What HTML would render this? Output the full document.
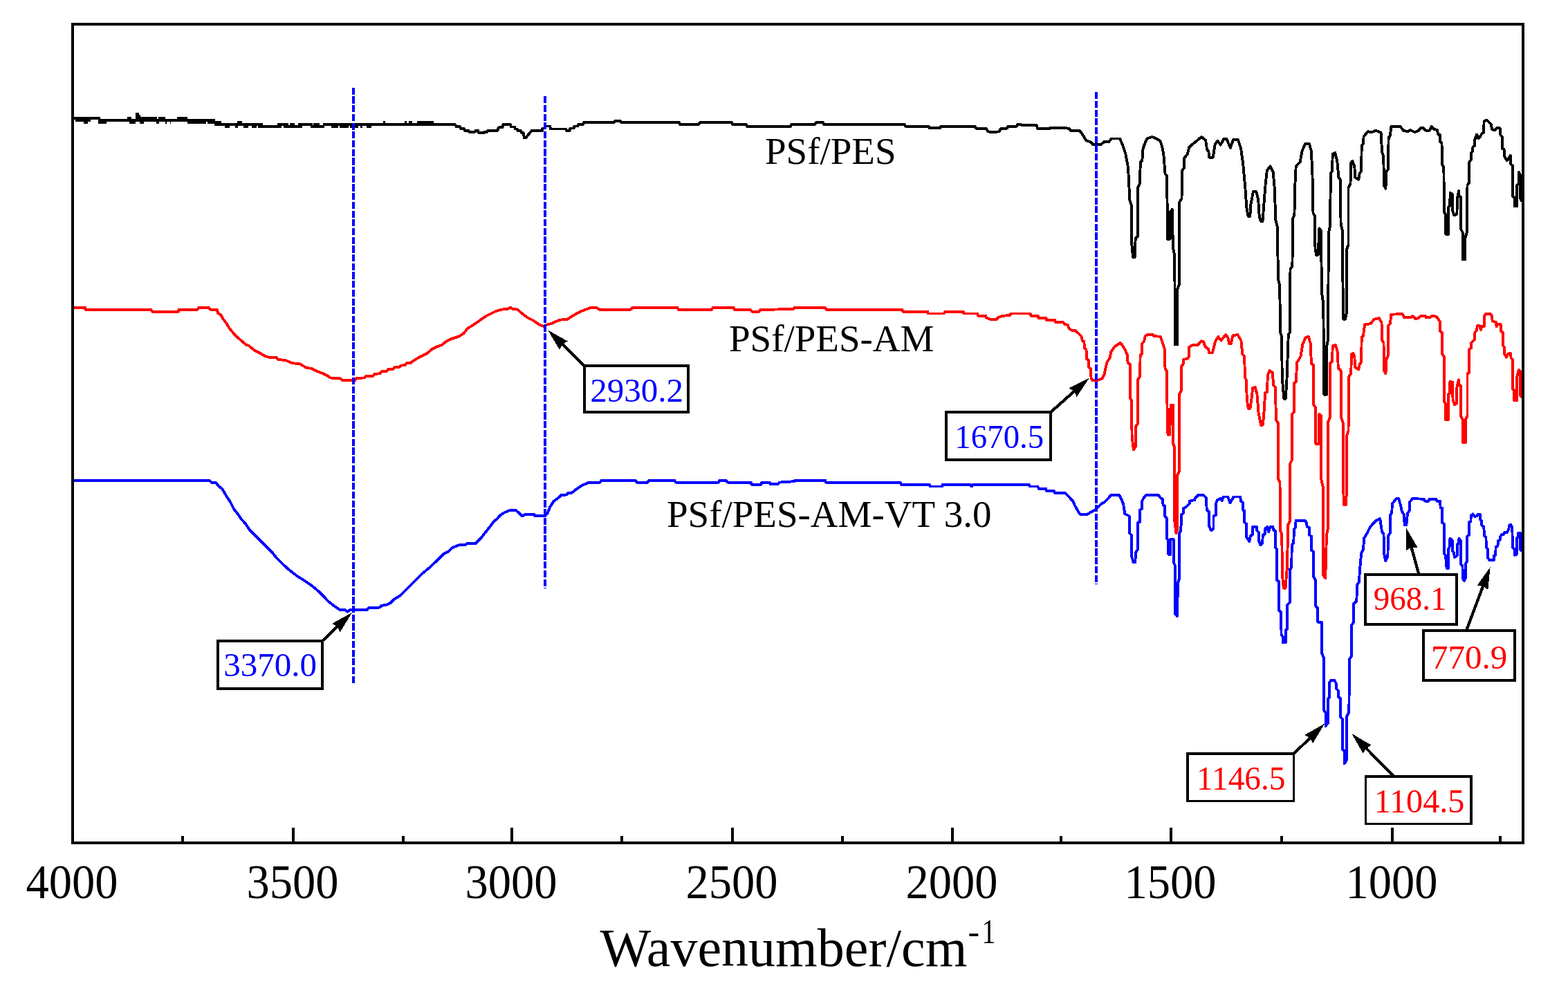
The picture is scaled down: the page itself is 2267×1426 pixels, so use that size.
<!DOCTYPE html>
<html><head><meta charset="utf-8"><title>FTIR</title>
<style>html,body{margin:0;padding:0;background:#fff;}svg{display:block;}text{font-family:'Liberation Serif','Times New Roman',serif;}</style>
</head><body>
<svg width="2267" height="1426" viewBox="0 0 2267 1426" shape-rendering="crispEdges">
<rect x="0" y="0" width="2267" height="1426" fill="#fff"/>

<g fill="none" stroke-width="3.9" stroke-linejoin="round" stroke-linecap="butt" shape-rendering="crispEdges">
<polygon fill="#000" stroke="none" points="105.0,169.1 145.0,169.1 145.0,172.2 183.8,172.2 183.8,169.1 190.4,169.1 190.4,172.2 196.2,172.2 196.2,163.1 200.6,163.1 200.6,166.0 202.8,166.0 202.8,169.1 227.0,169.1 227.0,172.2 229.2,172.2 229.2,169.1 238.5,169.1 238.5,172.2 256.2,172.2 256.2,169.1 271.2,169.1 271.2,172.2 300.0,172.2 300.0,172.1 310.6,172.1 310.6,175.1 319.9,175.1 319.9,178.2 343.2,178.2 343.2,175.1 349.8,175.1 349.8,178.2 379.8,178.2 379.8,181.3 401.0,181.3 401.0,178.2 417.3,178.2 417.3,181.3 419.1,181.3 419.1,178.2 426.2,178.2 426.2,181.3 431.0,181.3 431.0,178.2 451.7,178.2 451.7,181.3 453.1,181.3 453.1,178.2 461.9,178.2 461.9,181.3 467.2,181.3 467.2,178.2 500.0,178.2 500.0,178.2 554.3,178.2 554.3,175.1 557.3,175.1 557.3,178.2 584.7,178.2 584.7,175.1 588.2,175.1 588.2,178.2 590.9,178.2 590.9,175.1 596.2,175.1 596.2,178.2 602.8,178.2 602.8,175.1 626.6,175.1 626.6,178.2 659.3,178.2 659.3,181.8 536.6,181.8 536.6,184.8 530.0,184.8 530.0,181.8 524.3,181.8 524.3,184.8 520.7,184.8 520.7,181.8 517.6,181.8 517.6,184.8 506.2,184.8 506.2,181.8 503.5,181.8 503.5,184.8 500.0,184.8 500.0,184.8 491.0,184.8 491.0,181.8 488.8,181.8 488.8,184.8 479.1,184.8 479.1,181.8 469.4,181.8 469.4,184.8 449.1,184.8 449.1,181.8 436.7,181.8 436.7,184.8 409.8,184.8 409.8,181.8 406.7,181.8 406.7,184.8 373.2,184.8 373.2,181.8 370.6,181.8 370.6,184.8 364.0,184.8 364.0,181.8 358.7,181.8 358.7,184.8 352.1,184.8 352.1,181.8 343.7,181.8 343.7,184.8 340.1,184.8 340.1,181.8 331.8,181.8 331.8,184.8 325.1,184.8 325.1,181.8 309.7,181.8 309.7,178.7 300.0,178.7 300.0,175.7 297.6,175.7 297.6,178.6 271.2,178.6 271.2,175.7 247.4,175.7 247.4,178.6 245.6,178.6 245.6,175.7 241.2,175.7 241.2,178.6 238.5,178.6 238.5,175.7 229.7,175.7 229.7,178.6 226.2,178.6 226.2,175.7 208.1,175.7 208.1,178.6 202.3,178.6 202.3,175.7 196.2,175.7 196.2,178.6 186.9,178.6 186.9,175.7 153.8,175.7 153.8,178.6 142.3,178.6 142.3,172.8 130.9,172.8 130.9,176.0 127.3,176.0 127.3,178.6 121.2,178.6 121.2,176.0 108.8,176.0 108.8,172.6 105.0,172.6"/>
<polyline stroke="#000" points="658.8,180.0 659.5,183.0 665.0,183.0 666.0,186.0 671.2,186.0 672.0,189.0 677.3,189.0 678.0,190.6 687.0,190.6 687.5,188.8 691.4,188.8 692.0,192.1 700.0,192.1 701.0,190.6 704.4,190.6 705.5,188.8 719.4,188.8 721.0,184.4 726.5,184.4 727.5,180.0 738.0,180.0 739.0,183.5 744.0,183.5 745.0,186.5 747.6,186.5 748.5,189.0 753.0,189.0 754.0,192.0 756.5,192.0 758.0,199.5 760.5,199.5 762.5,196.5 765.3,193.0 768.8,188.8 783.8,188.8 784.5,185.5 787.3,185.5 788.0,182.5 795.3,182.5 796.0,186.5 818.2,186.5 819.0,189.0 823.5,189.0 824.5,185.5 829.7,185.5 830.5,182.5 835.0,182.5 836.0,180.0 843.0,180.0 844.0,176.7 888.0,176.7 889.0,175.0 897.0,175.0 898.0,177.0 982.0,177.0 983.0,180.0 1010.0,180.0 1012.0,177.0 1058.0,177.0 1059.0,180.0 1079.0,180.0 1080.0,183.0 1143.0,183.0 1144.0,180.0 1178.0,180.0 1180.0,177.0 1190.0,177.0 1191.0,180.0 1308.0,179.9 1309.0,182.7 1343.0,182.7 1344.0,185.4 1359.0,185.4 1360.0,182.7 1410.0,182.7 1411.0,185.7 1426.0,185.7 1428.0,190.2 1435.0,191.4 1445.0,190.2 1447.0,185.7 1456.0,185.7 1457.0,182.7 1470.0,182.7 1471.0,179.9 1476.0,179.9 1478.0,181.4 1499.0,181.4 1500.0,186.2 1518.0,186.2 1519.0,184.6 1540.0,184.6 1546.0,186.2 1548.0,188.9 1561.0,188.9 1566.0,196.0 1570.0,202.9 1578.0,206.0 1580.0,209.2 1592.0,209.2 1596.0,205.3 1603.0,205.3 1607.0,200.5 1619.0,200.5 1622.7,208.6 1627.4,222.9 1631.0,242.0 1633.4,289.7 1635.8,296.8 1636.2,351.7 1638.0,371.9 1640.6,371.9 1641.7,344.5 1644.8,342.1 1645.3,270.6 1647.7,265.8 1648.9,234.8 1651.3,232.5 1652.5,215.8 1654.8,208.6 1658.4,200.3 1665.6,197.9 1671.5,200.3 1677.5,203.8 1679.9,211.0 1682.3,222.9 1684.6,251.5 1687.0,253.9 1687.7,304.0 1687.7,345.7 1691.8,345.7 1691.8,306.4 1694.9,302.8 1695.9,358.8 1698.2,368.4 1699.0,490.0 1699.0,498.3 1702.3,498.3 1702.3,490.0 1702.3,418.0 1704.9,411.3 1705.4,292.0 1708.5,287.3 1709.2,246.8 1711.6,243.2 1712.0,228.9 1716.8,222.9 1719.2,213.4 1722.8,209.8 1730.0,203.8 1737.1,197.9 1743.1,202.7 1745.0,215.8 1747.4,219.3 1748.3,227.7 1753.8,227.7 1756.5,209.5 1760.3,203.6 1764.7,209.5 1769.2,201.2 1773.6,201.2 1778.9,213.9 1783.0,202.1 1789.8,202.1 1794.2,215.4 1797.1,236.0 1800.1,268.4 1802.4,300.8 1804.7,312.9 1807.3,312.9 1808.3,296.4 1811.9,277.2 1816.3,277.2 1819.2,289.0 1820.7,312.6 1822.9,320.2 1825.5,320.2 1827.2,297.9 1829.6,266.9 1831.9,246.3 1836.3,240.4 1840.7,249.2 1842.8,272.8 1844.3,318.5 1846.6,327.3 1848.1,403.9 1850.2,412.8 1851.1,480.5 1853.1,486.4 1853.7,545.3 1856.2,576.6 1858.8,576.6 1860.5,548.3 1862.8,483.5 1864.9,480.5 1865.5,389.2 1868.4,384.8 1869.3,315.5 1871.4,311.1 1872.3,268.4 1873.7,240.4 1879.6,234.5 1882.6,218.3 1887.0,208.0 1892.9,208.0 1895.8,218.3 1897.4,249.2 1898.5,308.2 1900.9,312.6 1901.5,359.7 1903.1,368.8 1905.7,368.8 1906.2,356.8 1907.4,330.3 1909.7,333.2 1911.2,424.6 1913.3,439.3 1914.2,563.0 1914.2,570.7 1918.0,570.7 1918.0,501.2 1920.0,492.3 1920.9,336.2 1923.0,327.3 1923.9,250.7 1925.9,247.8 1926.8,222.7 1930.4,221.2 1933.3,233.0 1935.4,256.6 1937.7,259.6 1938.6,324.4 1940.7,333.2 1941.6,421.6 1942.3,461.7 1944.9,461.7 1946.6,454.0 1947.4,359.7 1949.5,353.8 1949.5,271.3 1952.5,265.4 1953.0,236.0 1955.4,233.0 1958.3,240.4 1959.2,256.6 1964.2,259.6 1965.7,250.7 1968.1,247.8 1968.7,210.9 1971.0,208.0 1971.6,197.7 1977.5,190.3 1983.4,191.2 1989.3,188.8 1996.6,191.8 1998.1,219.8 2000.2,225.7 2001.1,268.4 2003.4,272.8 2004.6,247.8 2007.0,244.8 2007.6,199.2 2009.9,196.2 2011.4,182.9 2024.6,182.9 2029.1,188.8 2035.0,190.3 2039.4,188.2 2045.3,191.2 2050.0,189.4 2054.3,185.2 2057.6,185.2 2061.0,188.6 2066.9,188.6 2069.9,182.7 2072.8,186.9 2077.8,187.8 2079.5,194.5 2082.0,195.3 2082.0,204.6 2084.5,207.1 2085.0,237.4 2087.4,242.4 2087.9,306.4 2090.4,311.4 2090.4,338.8 2093.8,338.8 2093.8,328.2 2094.1,299.6 2096.3,297.1 2096.6,278.6 2099.7,281.1 2100.2,304.7 2102.2,311.4 2106.4,309.7 2106.9,287.9 2108.9,276.1 2109.8,284.5 2112.3,285.3 2112.3,331.6 2114.8,336.6 2114.8,375.0 2118.2,375.0 2118.2,345.0 2120.7,336.6 2121.5,267.7 2124.1,264.3 2124.4,234.0 2126.6,231.5 2126.9,221.4 2129.1,218.9 2129.5,212.2 2131.6,211.3 2132.0,202.9 2135.0,194.5 2137.5,200.4 2140.9,196.2 2142.6,192.8 2145.1,192.0 2145.6,175.1 2149.3,173.5 2152.7,176.8 2156.0,180.2 2156.9,186.9 2161.1,188.6 2163.6,185.2 2168.7,185.2 2169.5,195.3 2172.0,197.9 2172.4,215.5 2174.5,215.5 2175.4,226.5 2178.8,232.3 2181.3,229.0 2183.8,224.8 2184.3,237.4 2187.2,239.9 2187.2,283.7 2189.7,286.2 2189.7,298.4 2193.1,298.4 2193.1,267.7 2195.6,265.2 2196.1,249.2 2198.1,254.2 2198.4,287.9 2200.6,291.2"/>
<polyline stroke="#f00" points="106.0,444.6 123.0,444.6 123.5,447.6 218.2,447.6 220.0,450.6 257.9,450.6 258.5,447.6 285.3,447.6 288.0,444.6 301.1,444.6 303.8,447.6 313.5,447.6 315.3,452.9 319.7,455.6 322.3,460.9 327.6,467.9 331.1,474.1 338.2,482.9 341.7,486.5 347.0,490.9 355.8,498.8 359.4,499.7 368.2,506.8 375.3,510.3 380.5,513.8 387.6,516.5 400.0,517.3 401.7,520.0 412.3,520.9 422.9,525.3 433.5,526.2 442.3,531.5 451.1,533.2 460.0,537.6 467.0,540.3 474.1,543.8 477.6,546.5 491.7,547.3 495.0,550.0 513.5,550.0 515.3,546.8 526.8,546.5 529.4,543.8 539.1,543.8 541.8,540.8 549.7,540.3 551.5,537.3 559.4,536.7 561.2,534.1 568.2,534.1 570.0,531.5 577.9,530.6 579.7,528.8 585.9,527.9 587.6,525.3 592.9,525.3 596.5,522.6 603.5,518.2 610.6,514.3 617.6,510.8 624.7,505.0 631.7,501.5 638.8,498.8 645.9,493.2 652.9,490.0 663.5,486.5 670.6,482.1 675.9,475.0 684.7,469.7 693.5,463.5 702.3,457.3 709.4,453.8 716.4,450.3 725.3,447.6 734.1,446.8 737.6,444.6 741.1,446.8 748.2,447.6 755.3,453.8 762.3,459.1 771.1,463.5 780.0,469.7 787.0,472.3 790.5,469.7 797.6,467.9 802.9,465.3 810.0,462.6 820.5,461.8 825.8,458.2 832.9,453.8 839.8,450.3 847.0,447.6 854.0,445.0 862.9,445.0 866.4,447.6 912.3,447.6 914.0,444.8 979.4,444.8 981.2,448.0 1028.8,448.0 1030.6,444.8 1060.6,444.8 1062.3,448.0 1085.3,448.0 1087.0,450.6 1097.6,450.6 1099.4,448.0 1147.0,447.0 1148.8,444.8 1192.9,444.8 1194.7,447.6 1304.5,447.8 1305.3,450.6 1341.0,450.6 1341.8,453.5 1364.8,453.5 1366.4,450.6 1392.6,450.6 1393.4,453.5 1413.2,453.5 1414.0,456.7 1425.2,456.7 1426.0,459.4 1431.5,461.8 1441.0,461.8 1442.6,459.4 1449.8,456.7 1459.3,456.2 1461.7,453.5 1489.5,453.5 1490.3,456.7 1500.6,456.7 1501.4,459.9 1512.5,459.9 1513.3,462.9 1525.2,462.9 1526.0,465.7 1537.1,466.2 1539.5,468.9 1543.5,469.7 1545.9,475.3 1549.0,477.6 1553.8,477.6 1558.6,481.6 1563.3,486.4 1564.9,492.7 1567.3,493.5 1568.1,503.8 1570.5,505.4 1571.3,519.7 1573.6,520.5 1574.4,531.6 1576.8,533.2 1577.6,546.7 1579.2,549.9 1587.1,549.9 1593.5,547.5 1596.7,541.2 1598.3,533.2 1600.6,523.7 1604.6,517.3 1606.2,509.4 1611.6,501.3 1619.7,495.9 1623.2,500.1 1626.6,505.9 1629.6,512.8 1630.6,524.4 1633.6,526.7 1633.6,575.3 1635.9,578.8 1636.6,632.1 1638.9,650.6 1641.7,646.0 1642.1,617.0 1645.1,612.4 1645.1,548.7 1648.2,544.1 1648.6,514.0 1650.9,511.7 1651.4,496.6 1654.4,493.2 1655.6,486.2 1659.0,483.9 1667.1,483.9 1668.3,486.2 1677.6,486.7 1679.9,493.2 1682.2,500.1 1683.8,504.7 1684.5,532.5 1686.8,537.1 1687.5,586.9 1688.5,628.6 1691.1,628.6 1692.6,585.8 1696.1,585.8 1696.1,641.3 1698.4,648.3 1698.4,754.8 1700.5,771.0 1702.2,765.0 1702.2,687.0 1705.3,681.0 1705.3,569.6 1707.7,564.9 1707.7,530.2 1710.7,526.7 1711.1,519.8 1716.9,518.6 1719.2,515.1 1719.2,502.4 1723.9,498.9 1732.0,498.9 1736.6,493.2 1740.1,494.3 1742.4,501.3 1747.0,504.7 1748.2,510.5 1752.8,510.5 1757.0,493.9 1761.2,486.8 1765.4,492.5 1771.9,484.0 1775.3,488.2 1777.3,496.9 1779.9,496.9 1782.3,485.4 1789.3,484.0 1794.4,492.5 1796.3,512.1 1799.1,514.9 1800.0,545.8 1801.9,550.0 1802.8,578.1 1804.8,590.9 1807.4,590.9 1809.5,576.7 1811.2,561.2 1814.6,559.8 1817.4,569.6 1819.6,597.7 1823.1,614.8 1825.7,614.8 1827.2,600.5 1829.2,568.2 1832.0,566.8 1832.8,543.0 1835.6,536.0 1839.8,538.8 1841.2,557.0 1844.0,559.8 1844.9,607.5 1847.7,611.8 1847.7,691.8 1850.5,697.4 1851.1,767.5 1853.3,773.2 1853.9,832.1 1855.9,850.6 1858.5,850.6 1860.9,820.9 1862.3,759.1 1865.1,753.5 1865.1,670.7 1867.9,665.1 1867.9,599.1 1870.7,596.3 1871.3,554.2 1874.1,551.4 1874.9,524.7 1877.7,520.5 1880.5,514.9 1883.3,498.1 1887.5,488.2 1891.8,486.8 1894.6,496.7 1896.0,526.1 1899.4,528.4 1899.4,585.8 1902.4,590.3 1902.4,634.5 1902.4,642.1 1906.8,642.1 1906.8,628.6 1907.4,599.1 1910.3,602.0 1910.3,693.4 1913.3,706.6 1913.3,831.9 1916.2,836.3 1918.0,772.9 1920.0,764.1 1920.0,610.9 1923.0,603.5 1923.0,525.4 1925.9,522.5 1926.8,500.4 1931.0,498.9 1933.9,509.2 1934.8,532.8 1938.6,535.8 1938.6,602.0 1941.6,610.9 1941.6,696.3 1943.2,730.5 1945.8,730.5 1946.6,717.0 1946.6,631.5 1949.5,622.7 1950.4,544.6 1953.3,540.2 1953.9,512.2 1956.3,510.7 1958.3,515.1 1959.2,531.3 1964.2,534.3 1965.7,526.9 1968.1,524.0 1968.7,487.1 1971.0,485.7 1973.1,469.5 1981.9,468.0 1986.3,462.1 1993.7,460.0 1997.5,466.5 1998.1,491.6 2000.5,496.0 2001.1,535.8 2003.4,540.2 2004.6,519.6 2007.0,513.7 2007.0,470.9 2009.9,468.0 2011.4,454.7 2027.6,454.1 2030.5,459.2 2039.4,459.2 2042.3,457.1 2046.7,461.2 2050.0,460.3 2054.3,456.9 2061.0,456.9 2061.8,459.4 2067.7,459.4 2070.2,456.9 2077.0,457.8 2079.5,462.0 2082.0,465.3 2082.0,478.8 2085.0,481.3 2085.0,511.6 2087.9,515.8 2087.9,580.6 2090.1,584.8 2090.1,607.1 2093.8,607.1 2093.8,598.2 2094.1,570.5 2096.3,568.8 2096.3,552.0 2100.2,552.8 2100.5,578.0 2103.0,585.6 2106.4,583.1 2106.4,560.4 2108.9,549.4 2109.8,557.0 2112.3,558.7 2112.3,602.4 2114.8,606.6 2114.8,639.9 2119.0,639.9 2119.0,606.6 2121.5,601.6 2121.5,541.0 2124.1,538.5 2124.4,504.9 2127.4,503.2 2127.4,495.6 2131.6,491.4 2132.5,480.5 2135.0,478.0 2135.8,471.2 2139.2,471.2 2140.9,477.1 2142.6,472.1 2146.0,472.1 2146.0,456.9 2148.5,453.6 2154.4,453.6 2156.9,456.9 2157.7,464.5 2162.8,466.2 2163.6,472.1 2166.1,468.7 2169.5,468.7 2170.3,478.8 2172.9,481.3 2172.9,499.8 2175.4,502.3 2175.4,512.4 2177.9,516.6 2180.4,511.6 2183.8,510.8 2184.6,517.5 2187.2,520.0 2187.2,562.9 2189.3,564.6 2189.3,579.4 2193.0,579.4 2193.0,546.1 2195.6,535.2 2198.1,537.7 2198.4,573.0 2200.5,574.0"/>
<polyline stroke="#00f" points="106.0,695.0 302.9,695.0 305.6,697.6 311.7,697.6 316.1,702.9 320.6,706.5 324.1,711.8 327.6,717.9 332.9,725.9 338.2,736.5 345.3,745.3 348.8,750.6 355.8,758.5 361.1,766.5 368.2,773.5 377.0,782.3 385.8,791.2 392.9,798.2 400.0,807.0 407.0,814.1 417.6,823.8 430.0,833.5 438.8,838.8 449.4,845.9 460.0,854.7 467.0,861.7 475.8,870.6 484.6,877.6 491.7,882.0 498.8,882.0 502.4,884.7 505.9,882.0 530.6,882.0 532.3,879.4 549.1,878.5 551.8,875.9 560.6,874.1 564.1,872.3 569.4,867.0 578.2,861.7 585.3,854.7 592.3,847.6 597.6,842.3 603.8,836.2 610.0,830.0 620.6,821.2 625.9,815.9 631.2,811.5 636.5,806.2 641.7,800.9 648.8,797.3 654.1,792.0 662.9,788.5 673.5,787.6 675.3,785.9 687.6,785.9 691.1,782.3 696.4,777.0 701.7,770.0 708.8,761.2 714.1,754.1 719.4,749.7 722.9,745.3 730.0,740.9 737.0,738.2 745.8,738.2 749.4,740.9 754.7,746.2 760.0,743.9 772.3,743.9 773.2,746.2 788.2,746.2 791.7,741.8 795.3,732.9 800.5,725.0 807.6,719.7 811.1,716.2 820.0,715.3 821.7,712.6 827.0,712.6 832.3,708.2 837.6,704.7 842.9,701.2 848.2,699.4 850.8,697.6 867.6,697.6 869.4,695.0 918.8,694.8 920.6,697.6 936.5,697.6 938.2,694.8 975.3,694.8 977.0,697.6 1038.8,697.6 1040.6,694.8 1049.4,694.8 1052.0,697.6 1085.6,697.6 1086.4,700.6 1100.6,700.6 1101.4,697.6 1112.9,697.6 1113.8,700.6 1125.3,699.7 1127.0,697.6 1148.2,696.2 1149.1,694.8 1193.2,694.8 1194.1,697.6 1301.8,697.8 1302.6,700.6 1343.8,700.6 1344.6,703.5 1362.1,703.5 1362.9,700.6 1402.6,700.6 1405.0,703.5 1406.6,700.6 1487.6,700.6 1489.1,703.5 1500.3,703.5 1501.9,706.7 1512.2,706.7 1513.0,709.9 1524.1,709.9 1524.9,712.9 1540.0,712.9 1551.1,724.5 1554.3,731.6 1560.6,742.7 1562.2,743.8 1572.5,743.8 1576.5,741.1 1582.8,738.0 1587.6,733.2 1592.4,728.4 1597.1,726.1 1600.0,723.1 1606.5,716.0 1618.0,716.0 1621.0,721.0 1624.2,729.4 1626.3,743.1 1632.6,746.3 1632.6,770.4 1635.7,773.6 1635.7,803.0 1638.7,813.4 1641.3,813.4 1642.0,798.8 1645.2,794.6 1645.2,755.7 1647.9,754.7 1647.9,737.8 1650.9,735.7 1650.9,725.2 1653.6,720.0 1657.2,715.8 1674.6,715.8 1677.8,720.0 1681.0,722.1 1681.6,730.5 1684.1,731.5 1684.1,746.3 1686.6,749.4 1686.6,778.8 1689.4,781.0 1689.4,801.8 1692.5,801.8 1692.5,779.9 1696.7,779.9 1696.7,813.5 1698.8,817.7 1698.8,887.1 1702.0,891.3 1703.0,843.0 1705.1,836.7 1705.1,771.5 1707.2,767.3 1708.3,744.2 1711.0,742.1 1711.4,734.7 1714.6,733.6 1719.8,728.4 1719.8,724.8 1727.2,723.1 1728.3,720.0 1732.5,715.8 1739.8,715.8 1744.0,720.0 1744.7,737.8 1748.2,740.0 1748.2,761.0 1751.0,767.3 1754.5,764.1 1754.5,746.3 1757.7,745.2 1757.7,729.4 1760.0,723.1 1764.7,721.0 1766.8,724.2 1768.9,718.5 1775.2,718.5 1778.4,727.3 1781.5,722.1 1783.6,718.5 1793.1,718.5 1794.2,725.2 1796.7,726.3 1797.3,737.8 1799.4,738.9 1799.4,755.7 1802.1,757.8 1802.1,776.7 1806.4,783.1 1807.8,775.7 1811.0,772.5 1811.0,762.0 1816.9,762.0 1817.3,767.3 1820.4,770.4 1820.4,783.1 1822.5,788.3 1825.3,785.2 1825.7,773.6 1828.8,772.5 1829.5,764.1 1832.4,762.0 1834.1,769.4 1836.6,762.0 1840.4,762.0 1841.5,767.3 1843.6,767.3 1843.6,791.5 1846.3,794.6 1846.3,838.8 1849.2,841.9 1849.2,882.9 1852.0,885.0 1852.6,918.7 1854.7,920.8 1854.7,929.0 1858.9,929.0 1858.9,911.3 1861.4,909.2 1861.4,874.5 1864.6,871.4 1864.6,824.1 1867.3,820.9 1867.7,788.3 1870.3,785.2 1870.9,765.2 1873.0,763.1 1873.6,752.6 1886.7,752.6 1888.8,755.7 1889.8,762.0 1893.0,763.1 1893.0,773.6 1896.1,775.7 1896.1,795.7 1898.9,797.8 1899.3,834.6 1901.8,838.8 1902.4,876.6 1905.2,879.8 1905.2,899.7 1909.8,899.7 1911.2,900.4 1911.2,944.5 1914.0,951.9 1914.0,1027.0 1916.5,1031.0 1916.5,1050.5 1920.2,1045.0 1920.2,1010.5 1922.3,1008.0 1922.3,987.0 1924.5,984.0 1929.5,984.0 1932.0,989.0 1932.0,996.0 1935.0,999.0 1935.0,1008.0 1937.9,1010.0 1937.9,1037.0 1941.0,1040.0 1941.0,1083.4 1943.7,1086.0 1943.7,1104.5 1947.1,1099.0 1947.1,1036.3 1950.0,1031.0 1950.4,1027.0 1951.0,953.4 1953.9,949.0 1953.9,904.8 1956.9,900.4 1956.9,873.8 1961.3,869.4 1962.2,845.8 1965.1,841.4 1965.7,828.2 1968.1,800.2 1971.0,794.3 1972.2,778.1 1976.0,772.2 1980.4,763.3 1984.9,757.5 1989.3,753.0 1995.2,750.1 1998.1,769.2 2000.5,772.2 2001.1,801.7 2003.4,811.4 2006.4,804.6 2007.0,775.1 2009.9,770.7 2009.9,745.7 2012.3,741.2 2012.9,728.0 2015.8,725.0 2018.7,721.2 2022.3,721.2 2024.6,729.5 2027.0,739.8 2029.9,744.2 2030.7,759.2 2033.3,759.2 2035.0,742.7 2037.9,738.3 2037.9,726.5 2042.3,721.2 2058.9,721.7 2060.1,724.6 2065.8,724.6 2066.5,721.7 2076.5,721.7 2077.2,724.6 2082.2,724.6 2082.6,734.1 2085.1,734.7 2085.1,755.5 2087.9,758.0 2087.9,800.9 2089.8,802.8 2091.7,821.8 2094.0,821.8 2094.0,794.0 2095.5,792.1 2096.5,778.9 2098.0,779.5 2099.9,782.0 2099.9,797.2 2101.8,798.4 2103.0,806.0 2106.6,803.5 2106.6,787.7 2108.7,785.8 2109.4,778.9 2111.9,782.0 2111.9,816.1 2114.4,818.0 2115.0,836.3 2116.9,840.1 2118.8,836.3 2118.8,816.1 2121.3,811.0 2121.3,775.7 2123.9,773.8 2123.9,754.9 2126.4,754.3 2126.8,745.4 2129.5,743.5 2132.1,747.3 2135.2,746.1 2137.1,743.5 2139.6,743.5 2140.3,751.7 2142.2,753.0 2142.4,759.9 2145.3,761.8 2146.0,775.1 2148.5,777.0 2148.7,791.5 2151.0,794.0 2151.0,806.6 2153.5,810.4 2159.8,810.4 2159.8,803.5 2162.3,802.8 2162.6,790.9 2165.5,789.6 2165.9,782.0 2168.7,780.8 2169.3,775.7 2171.2,773.2 2173.7,773.2 2175.0,770.0 2178.8,770.0 2181.3,765.6 2181.9,759.9 2184.4,758.7 2186.3,763.7 2187.0,792.1 2189.5,794.0 2189.5,802.8 2192.6,802.2 2192.6,778.9 2194.5,777.0 2195.2,770.7 2197.7,770.7 2198.3,795.3 2200.5,796.5"/>
</g>
<g stroke="#00f" stroke-width="4" stroke-dasharray="10.2 2.5" fill="none">
<line x1="510.9" y1="126.7" x2="510.9" y2="988.3"/>
<line x1="788" y1="139.1" x2="788" y2="850.8"/>
<line x1="1585" y1="133.1" x2="1585" y2="844.8"/>
</g>
<rect x="105" y="35" width="2097" height="1184" fill="none" stroke="#000" stroke-width="4"/>
<g stroke="#000" stroke-width="4">
<line x1="105" y1="1217" x2="105" y2="1196.5"/>
<line x1="424" y1="1217" x2="424" y2="1196.5"/>
<line x1="740" y1="1217" x2="740" y2="1196.5"/>
<line x1="1059" y1="1217" x2="1059" y2="1196.5"/>
<line x1="1377" y1="1217" x2="1377" y2="1196.5"/>
<line x1="1693" y1="1217" x2="1693" y2="1196.5"/>
<line x1="2013" y1="1217" x2="2013" y2="1196.5"/>
<line x1="264" y1="1217" x2="264" y2="1208.5"/>
<line x1="583" y1="1217" x2="583" y2="1208.5"/>
<line x1="899" y1="1217" x2="899" y2="1208.5"/>
<line x1="1218" y1="1217" x2="1218" y2="1208.5"/>
<line x1="1534" y1="1217" x2="1534" y2="1208.5"/>
<line x1="1853" y1="1217" x2="1853" y2="1208.5"/>
<line x1="2169" y1="1217" x2="2169" y2="1208.5"/>
</g>
<g font-size="66.5" text-anchor="middle" fill="#000">
<text transform="translate(104,1299.4) scale(1,1.06)">4000</text>
<text transform="translate(423,1299.4) scale(1,1.06)">3500</text>
<text transform="translate(739,1299.4) scale(1,1.06)">3000</text>
<text transform="translate(1058,1299.4) scale(1,1.06)">2500</text>
<text transform="translate(1376,1299.4) scale(1,1.06)">2000</text>
<text transform="translate(1692,1299.4) scale(1,1.06)">1500</text>
<text transform="translate(2012,1299.4) scale(1,1.06)">1000</text>
</g>
<text x="867.5" y="1397" font-size="78" fill="#000">Wavenumber/cm</text>
<text x="1399.5" y="1364" font-size="50" fill="#000">-</text>
<text transform="translate(1429.5,1364) scale(0.8,1)" text-anchor="middle" font-size="50" fill="#000">1</text>
<g font-size="55" fill="#000">
<text x="1106" y="236.5">PSf/PES</text>
<text x="1054" y="507.5">PSf/PES-AM</text>
<text x="964" y="762">PSf/PES-AM-VT 3.0</text>
</g>
<g>
<rect x="845" y="529" width="150.0" height="67.0" fill="#fff" stroke="#000" stroke-width="3.7"/>
<text transform="translate(920.7,580.7) scale(1.0,1)" font-size="49" text-anchor="middle" fill="#00f">2930.2</text>
<rect x="1368" y="596.2" width="151.0" height="68.8" fill="#fff" stroke="#000" stroke-width="3.7"/>
<text transform="translate(1444.8,647.5) scale(0.957,1)" font-size="49" text-anchor="middle" fill="#00f">1670.5</text>
<rect x="315" y="927.2" width="150.8" height="68.8" fill="#fff" stroke="#000" stroke-width="3.7"/>
<text transform="translate(390.5,978.4) scale(1.0,1)" font-size="49" text-anchor="middle" fill="#00f">3370.0</text>
<rect x="1974" y="830.8" width="131.9" height="71.9" fill="#fff" stroke="#000" stroke-width="3.7"/>
<text transform="translate(2038.7,882.3) scale(0.96,1)" font-size="49" text-anchor="middle" fill="#f00">968.1</text>
<rect x="2058" y="911.9" width="131.7" height="71.9" fill="#fff" stroke="#000" stroke-width="3.7"/>
<text transform="translate(2124.1,966.5) scale(1.0,1)" font-size="49" text-anchor="middle" fill="#f00">770.9</text>
<rect x="1717.3" y="1090.2" width="153.3" height="68.3" fill="#fff" stroke="#000" stroke-width="3.7"/>
<text transform="translate(1794.3,1142.1) scale(0.966,1)" font-size="49" text-anchor="middle" fill="#f00">1146.5</text>
<rect x="1974.6" y="1123.2" width="152.3" height="68.3" fill="#fff" stroke="#000" stroke-width="3.7"/>
<text transform="translate(2052.0,1175.1) scale(0.983,1)" font-size="49" text-anchor="middle" fill="#f00">1104.5</text>
</g>
<g fill="#000" stroke="#000">
<line x1="845" y1="529" x2="812.0" y2="496.9" stroke-width="4.2"/>
<polygon stroke="none" points="792.0,477.3 820.8,493.6 813.1,497.9 809.0,505.7"/>
<line x1="1519" y1="596.2" x2="1554.1" y2="565.0" stroke-width="4.2"/>
<polygon stroke="none" points="1575.0,546.4 1556.7,574.0 1553.0,566.0 1545.4,561.3"/>
<line x1="465.8" y1="927.2" x2="488.8" y2="905.2" stroke-width="4.2"/>
<polygon stroke="none" points="509.0,885.9 491.7,914.2 487.7,906.2 480.0,901.9"/>
<line x1="2051.2" y1="830" x2="2040.2" y2="790.1" stroke-width="4.2"/>
<polygon stroke="none" points="2032.8,763.1 2049.5,791.7 2040.6,791.5 2033.1,796.2"/>
<line x1="2120.4" y1="911" x2="2144.7" y2="846.3" stroke-width="4.2"/>
<polygon stroke="none" points="2154.6,820.1 2151.3,853.0 2144.2,847.7 2135.4,847.1"/>
<line x1="1870.6" y1="1090.2" x2="1895.1" y2="1066.1" stroke-width="4.2"/>
<polygon stroke="none" points="1915.1,1046.5 1898.2,1075.0 1894.1,1067.1 1886.3,1062.9"/>
<line x1="2014.4" y1="1122" x2="1974.0" y2="1080.9" stroke-width="4.2"/>
<polygon stroke="none" points="1954.3,1061.0 1982.8,1077.8 1975.0,1082.0 1970.7,1089.8"/>
</g>
</svg></body></html>
